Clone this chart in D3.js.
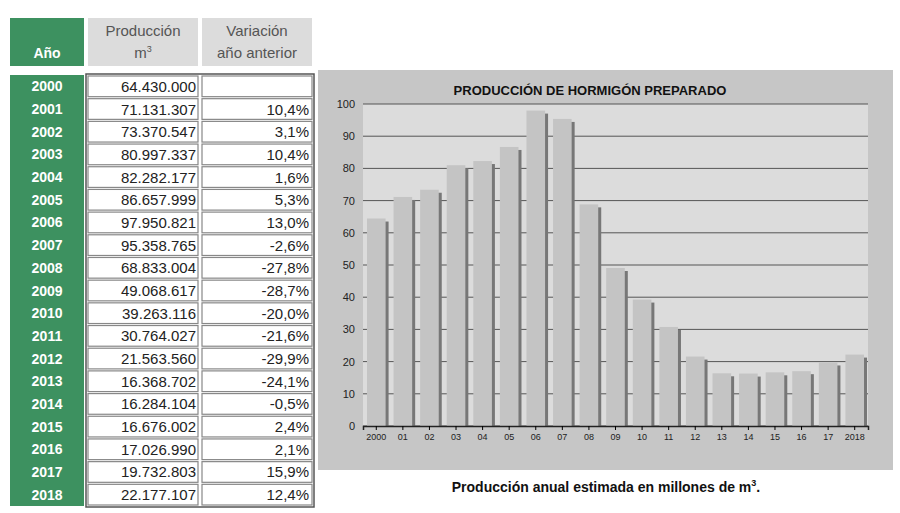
<!DOCTYPE html>
<html><head><meta charset="utf-8">
<script src="https://cdnjs.cloudflare.com/ajax/libs/d3/7.8.5/d3.min.js"></script>
<style>body{margin:0;background:#fff}</style></head>
<body><svg id="c" width="900" height="513"></svg>
<script>
const years = ["2000","2001","2002","2003","2004","2005","2006","2007","2008","2009","2010","2011","2012","2013","2014","2015","2016","2017","2018"];
const production = [64430000,71131307,73370547,80997337,82282177,86657999,97950821,95358765,68833004,49068617,39263116,30764027,21563560,16368702,16284104,16676002,17026990,19732803,22177107];
const variation = ["","10,4%","3,1%","10,4%","1,6%","5,3%","13,0%","-2,6%","-27,8%","-28,7%","-20,0%","-21,6%","-29,9%","-24,1%","-0,5%","2,4%","2,1%","15,9%","12,4%"];
const xLabels = ["2000","01","02","03","04","05","06","07","08","09","10","11","12","13","14","15","16","17","2018"];
const yTicks = [0,10,20,30,40,50,60,70,80,90,100];

const svg = d3.select("#c");
const F = "Liberation Sans, Arial, sans-serif";
const green = "#3d9160";
svg.append("rect").attr("x",10).attr("y",18).attr("width",74).attr("height",48).attr("fill",green);
svg.append("text").attr("x",47).attr("y",58).attr("text-anchor","middle").attr("fill","#fff").attr("font-weight","bold").attr("font-size",14).attr("font-family",F).text("Año");
svg.append("rect").attr("x",88).attr("y",18).attr("width",110).attr("height",48).attr("fill","#dcdcdc");
svg.append("text").attr("x",143).attr("y",36).attr("text-anchor","middle").attr("fill","#555").attr("font-size",15).attr("font-family",F).text("Producción");
const m3=svg.append("text").attr("x",143).attr("y",58).attr("text-anchor","middle").attr("fill","#555").attr("font-size",15).attr("font-family",F).text("m");
m3.append("tspan").attr("dy",-6).attr("font-size",9).text("3");
svg.append("rect").attr("x",202).attr("y",18).attr("width",110).attr("height",48).attr("fill","#dcdcdc");
svg.append("text").attr("x",257).attr("y",36).attr("text-anchor","middle").attr("fill","#555").attr("font-size",15).attr("font-family",F).text("Variación");
svg.append("text").attr("x",257).attr("y",58).attr("text-anchor","middle").attr("fill","#555").attr("font-size",15).attr("font-family",F).text("año anterior");

const ry = d3.scaleBand().domain(years).range([75,506]);
const fmt = d3.formatLocale({decimal:",",thousands:".",grouping:[3],currency:["",""]}).format(",d");
svg.append("rect").attr("x",10).attr("y",75).attr("width",74).attr("height",431).attr("fill",green);
const rows = svg.selectAll(".row").data(years).join("g");
rows.append("text").attr("x",47).attr("y",d=>ry(d)+ry.bandwidth()/2+5).attr("text-anchor","middle").attr("fill","#fff").attr("font-weight","bold").attr("font-size",14).attr("font-family",F).text(d=>d);
rows.append("rect").attr("x",88).attr("y",d=>ry(d)+1).attr("width",110).attr("height",ry.bandwidth()-2).attr("fill","#fff").attr("stroke","#888").attr("stroke-width",1.2);
rows.append("rect").attr("x",202).attr("y",d=>ry(d)+1).attr("width",110).attr("height",ry.bandwidth()-2).attr("fill","#fff").attr("stroke","#888").attr("stroke-width",1.2);
rows.append("text").attr("x",196).attr("y",d=>ry(d)+ry.bandwidth()/2+5.5).attr("text-anchor","end").attr("fill","#222").attr("font-size",15).attr("font-family",F).text((d,i)=>fmt(production[i]));
rows.append("text").attr("x",309).attr("y",d=>ry(d)+ry.bandwidth()/2+5.5).attr("text-anchor","end").attr("fill","#222").attr("font-size",15).attr("font-family",F).text((d,i)=>variation[i]);
svg.append("rect").attr("x",86).attr("y",74).attr("width",228).attr("height",433).attr("fill","none").attr("stroke","#555").attr("stroke-width",1.5);

svg.append("rect").attr("x",318).attr("y",70).attr("width",575).attr("height",400).attr("fill","#c6c6c6");
const x = d3.scaleBand().domain(years).range([363,868]).paddingInner(0.3).paddingOuter(0.15);
const y = d3.scaleLinear().domain([0,100]).range([426,104]);
svg.append("rect").attr("x",363).attr("y",104).attr("width",505).attr("height",322).attr("fill","#dcdcdc");
svg.append("g").selectAll("line").data(yTicks).join("line").attr("x1",363).attr("x2",868).attr("y1",d=>y(d)).attr("y2",d=>y(d)).attr("stroke","#555").attr("stroke-width",1);
const bw=x.bandwidth();
svg.append("g").selectAll("rect").data(production).join("rect").attr("x",(d,i)=>x(years[i])+3).attr("y",d=>y(d/1e6)+3).attr("width",bw).attr("height",d=>y(0)-y(d/1e6)-3).attr("fill","#777");
svg.append("g").selectAll("rect").data(production).join("rect").attr("x",(d,i)=>x(years[i])).attr("y",d=>y(d/1e6)).attr("width",bw).attr("height",d=>y(0)-y(d/1e6)).attr("fill","#c4c4c4");
const ya = svg.append("g").attr("transform","translate(357,0)").call(d3.axisLeft(y).tickValues(yTicks).tickSize(0).tickPadding(2));
ya.select(".domain").remove();
ya.selectAll("text").attr("font-size",11).attr("font-family",F).attr("fill","#222");
const xa = svg.append("g").attr("transform","translate(0,426)").call(d3.axisBottom(x).tickFormat((d,i)=>xLabels[i]).tickSize(4).tickPadding(4));
xa.select(".domain").attr("stroke","#222").attr("stroke-width",1.5);
xa.selectAll("text").attr("font-size",9).attr("font-family",F).attr("fill","#222");
svg.append("text").attr("x",590).attr("y",95).attr("text-anchor","middle").attr("font-weight","bold").attr("font-size",13).attr("font-family",F).attr("fill","#111").text("PRODUCCIÓN DE HORMIGÓN PREPARADO");
const cap=svg.append("text").attr("x",606).attr("y",492).attr("text-anchor","middle").attr("font-weight","bold").attr("font-size",14).attr("font-family",F).attr("fill","#111").text("Producción anual estimada en millones de m");
cap.append("tspan").attr("dy",-6).attr("font-size",9).text("3");
cap.append("tspan").attr("dy",6).text(".");
</script></body></html>
